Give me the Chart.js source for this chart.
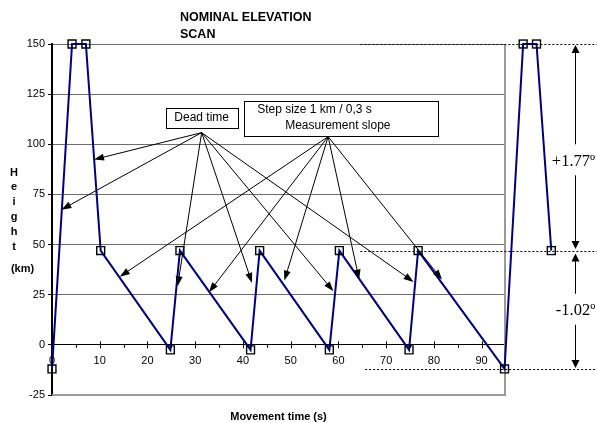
<!DOCTYPE html>
<html>
<head>
<meta charset="utf-8">
<script src="https://cdn.jsdelivr.net/npm/chart.js@4/dist/chart.umd.min.js"></script>
<style>
  html, body { margin: 0; padding: 0; background: #fff; }
  #wrap { width: 597px; height: 423px; position: relative; }
</style>
</head>
<body>
<div id="wrap"><canvas id="scan" width="597" height="423"></canvas></div>
<script>
// Scan profile: movement time (s) against height (km)
const timeS    = [0, 4.2, 7.1, 10.2, 24.8, 26.8, 41.6, 43.5, 58.1, 60.2, 74.8, 76.7, 94.8, 98.7, 101.5, 104.6];
const heightKm = [-12, 150, 150, 47, -2.5, 47, -2.5, 47, -2.5, 47, -2.5, 47, -12, 150, 150, 47];

const xTicks = [0, 10, 20, 30, 40, 50, 60, 70, 80, 90];
const xMinorTicks = [5, 15, 25, 35, 45, 55, 65, 75, 85];
const xRange = [0, 94.9];
const yTicks = [-25, 0, 25, 50, 75, 100, 125, 150];

const titleLines = ['NOMINAL ELEVATION', 'SCAN'];
const yTitleLetters = ['H', 'e', 'i', 'g', 'h', 't'];
const yTitleUnit = '(km)';
const xTitle = 'Movement time (s)';

const deadTimeLabel = 'Dead time';
const slopeLabel = ['Step size 1 km / 0,3 s', 'Measurement slope'];

// callout origins and arrow tips, in (time, height)
const deadTimeFrom = [31.35, 105.8];
const deadTimeTo = [[8.81, 92.4], [1.97, 67.4], [26.31, 29.2], [41.9, 30.9], [58.96, 26.7], [75.75, 31.4]];
const slopeFrom = [57.85, 103.8];
const slopeTo = [[14.2, 34.0], [32.88, 26.2], [48.68, 32.05], [64.35, 32.55], [81.7, 32.55]];

// elevation levels marked on the right and the angle between them
const levelTop = 150, levelMid = 47, levelLow = -12;
const levelLineStart = 64.6;
const angleLabels = ['+1.77º', '-1.02º'];
const angleLabelHeights = [92, 17.5];
const angleArrowTime = 109.5;

const SANS = "'Liberation Sans', Arial, Helvetica, sans-serif";
const SERIF = "'Liberation Serif', 'Times New Roman', serif";
const MARKER_RADIUS = 5.6;
const MARKER_BORDER = 1.4;

function arrowHead(ctx, fx, fy, tx, ty, len, half) {
  const a = Math.atan2(ty - fy, tx - fx);
  const c = Math.cos(a), s = Math.sin(a);
  ctx.beginPath();
  ctx.moveTo(tx, ty);
  ctx.lineTo(tx - len * c - half * s, ty - len * s + half * c);
  ctx.lineTo(tx - len * c + half * s, ty - len * s - half * c);
  ctx.closePath();
  ctx.fill();
}

function arrow(ctx, fx, fy, tx, ty, len, half) {
  const a = Math.atan2(ty - fy, tx - fx);
  ctx.beginPath();
  ctx.moveTo(fx, fy);
  ctx.lineTo(tx - (len - 1) * Math.cos(a), ty - (len - 1) * Math.sin(a));
  ctx.stroke();
  arrowHead(ctx, fx, fy, tx, ty, len, half);
}

const decorations = {
  id: 'decorations',
  beforeDatasetsDraw(chart) {
    const { ctx, chartArea: a, scales: { x, y } } = chart;
    ctx.save();
    // right and bottom frame of the plot area
    ctx.strokeStyle = '#9a9a9a';
    ctx.lineWidth = 2;
    ctx.beginPath();
    ctx.moveTo(a.right, a.top);
    ctx.lineTo(a.right, a.bottom);
    ctx.lineTo(a.left, a.bottom);
    ctx.stroke();

    // tick marks on the time axis (it crosses at height 0)
    const y0 = y.getPixelForValue(0);
    ctx.strokeStyle = '#000';
    ctx.lineWidth = 1;
    ctx.beginPath();
    xTicks.forEach(t => {
      if (t === 0) return;
      const px = Math.round(x.getPixelForValue(t)) + 0.5;
      ctx.moveTo(px, y0 - 3.5); ctx.lineTo(px, y0 + 3.5);
    });
    xMinorTicks.forEach(t => {
      const px = Math.round(x.getPixelForValue(t)) + 0.5;
      ctx.moveTo(px, y0); ctx.lineTo(px, y0 + 3);
    });
    ctx.stroke();

    // dotted level lines
    ctx.setLineDash([2, 2]);
    ctx.lineWidth = 1;
    [[levelTop, levelLineStart], [levelMid, levelLineStart], [levelLow, levelLineStart + 1]].forEach(([h, t0]) => {
      const py = Math.round(y.getPixelForValue(h)) + 0.5;
      ctx.beginPath();
      ctx.moveTo(x.getPixelForValue(t0), py);
      ctx.lineTo(chart.width, py);
      ctx.stroke();
    });
    ctx.restore();
  },
  afterDatasetsDraw(chart) {
    const { ctx, chartArea: area, scales: { x, y } } = chart;
    const P = (p) => [x.getPixelForValue(p[0]), y.getPixelForValue(p[1])];
    ctx.save();

    // markers of the return sweep lie right of the plot frame, where the
    // point elements skip drawing; outline them at their computed positions
    const half = MARKER_RADIUS * Math.SQRT1_2;
    ctx.strokeStyle = '#000';
    ctx.lineWidth = MARKER_BORDER;
    chart.getDatasetMeta(0).data.forEach(pt => {
      if (pt.x > area.right + half) ctx.strokeRect(pt.x - half, pt.y - half, 2 * half, 2 * half);
    });

    ctx.fillStyle = '#000';
    ctx.lineWidth = 1;

    // callout arrows
    const dOrig = P(deadTimeFrom);
    deadTimeTo.forEach(t => { const [tx, ty] = P(t); arrow(ctx, dOrig[0], dOrig[1], tx, ty, 10, 3.5); });
    const sOrig = P(slopeFrom);
    slopeTo.forEach(t => { const [tx, ty] = P(t); arrow(ctx, sOrig[0], sOrig[1], tx, ty, 10, 3.5); });

    // callout boxes
    ctx.font = '12px ' + SANS;
    ctx.textBaseline = 'middle';
    ctx.fillStyle = '#fff';
    ctx.fillRect(dOrig[0] - 36, dOrig[1] - 25, 72, 20);
    ctx.strokeRect(Math.round(dOrig[0] - 36) + 0.5, Math.round(dOrig[1] - 25) + 0.5, 72, 20);
    ctx.fillStyle = '#000';
    ctx.textAlign = 'center';
    ctx.fillText(deadTimeLabel, dOrig[0], dOrig[1] - 14.5);

    ctx.fillStyle = '#fff';
    ctx.fillRect(sOrig[0] - 84, sOrig[1] - 36, 194, 35);
    ctx.strokeRect(Math.round(sOrig[0] - 84) + 0.5, Math.round(sOrig[1] - 36) + 0.5, 194, 35);
    ctx.fillStyle = '#000';
    ctx.textAlign = 'left';
    ctx.fillText(slopeLabel[0], sOrig[0] - 71, sOrig[1] - 26.5);
    ctx.fillText(slopeLabel[1], sOrig[0] - 43, sOrig[1] - 10.5);

    // angle arrows on the right
    const ax = Math.round(x.getPixelForValue(angleArrowTime)) + 0.5;
    const yTop = y.getPixelForValue(levelTop) + 1;
    const yMid = y.getPixelForValue(levelMid);
    const yLow = y.getPixelForValue(levelLow) - 1;
    ctx.font = '16.5px ' + SERIF;
    ctx.textAlign = 'center';
    ctx.textBaseline = 'alphabetic';
    const spans = [[yTop, yMid - 1.5], [yMid + 3, yLow]];
    spans.forEach(([ya, yb], i) => {
      const ly = y.getPixelForValue(angleLabelHeights[i]);
      ctx.beginPath();
      ctx.moveTo(ax, ya + 6); ctx.lineTo(ax, ly - 16);
      ctx.moveTo(ax, ly + 15); ctx.lineTo(ax, yb - 6);
      ctx.stroke();
      arrowHead(ctx, ax, ya + 20, ax, ya, 8, 4);
      arrowHead(ctx, ax, yb - 20, ax, yb, 8, 4);
      ctx.fillText(angleLabels[i], ax - 2 + i * 2, ly + 5.5);
    });

    // title
    ctx.font = 'bold 12.5px ' + SANS;
    ctx.textAlign = 'left';
    ctx.fillText(titleLines[0], 180, 20.5);
    ctx.fillText(titleLines[1], 180, 37.5);

    // axis titles
    ctx.font = 'bold 11px ' + SANS;
    ctx.textAlign = 'center';
    yTitleLetters.forEach((ch, i) => ctx.fillText(ch, 14, 175.5 + i * 14.9));
    ctx.fillText(yTitleUnit, 22.5, 271.5);
    ctx.fillText(xTitle, (area.left + area.right) / 2, 420);
    ctx.restore();
  }
};

new Chart(document.getElementById('scan'), {
  type: 'line',
  data: {
    datasets: [{
      data: timeS.map((t, i) => ({ x: t, y: heightKm[i] })),
      borderColor: '#000080',
      borderWidth: 2,
      tension: 0,
      pointStyle: 'rect',
      pointRadius: MARKER_RADIUS,
      pointBorderColor: '#000',
      pointBorderWidth: MARKER_BORDER,
      pointBackgroundColor: 'rgba(0,0,0,0)',
      clip: false
    }]
  },
  options: {
    responsive: false,
    animation: false,
    devicePixelRatio: 1,
    layout: { padding: { left: 0, top: 44, right: 92, bottom: 28 } },
    plugins: { legend: { display: false }, tooltip: { enabled: false }, title: { display: false } },
    scales: {
      x: {
        type: 'linear',
        bounds: 'data',
        position: { y: 0 },
        // the time range is fixed here so the return sweep past 95 s is still drawn
        afterDataLimits: s => { s.min = xRange[0]; s.max = xRange[1]; },
        afterBuildTicks: s => { s.ticks = xTicks.map(v => ({ value: v })); },
        ticks: {
          color: '#000',
          padding: 10,
          maxRotation: 0,
          font: { family: SANS, size: 11 }
        },
        grid: { drawOnChartArea: false, drawTicks: false },
        border: { color: '#000', width: 1 }
      },
      y: {
        min: -25,
        max: 150,
        afterBuildTicks: s => { s.ticks = yTicks.map(v => ({ value: v })); },
        afterFit: s => { s.width = 52; },
        ticks: {
          color: '#000',
          padding: 3,
          font: { family: SANS, size: 11 }
        },
        grid: { color: '#6e6e6e', lineWidth: 1, tickColor: '#000', tickLength: 4 },
        border: { color: '#000', width: 2 }
      }
    }
  },
  plugins: [decorations]
});
</script>
</body>
</html>
